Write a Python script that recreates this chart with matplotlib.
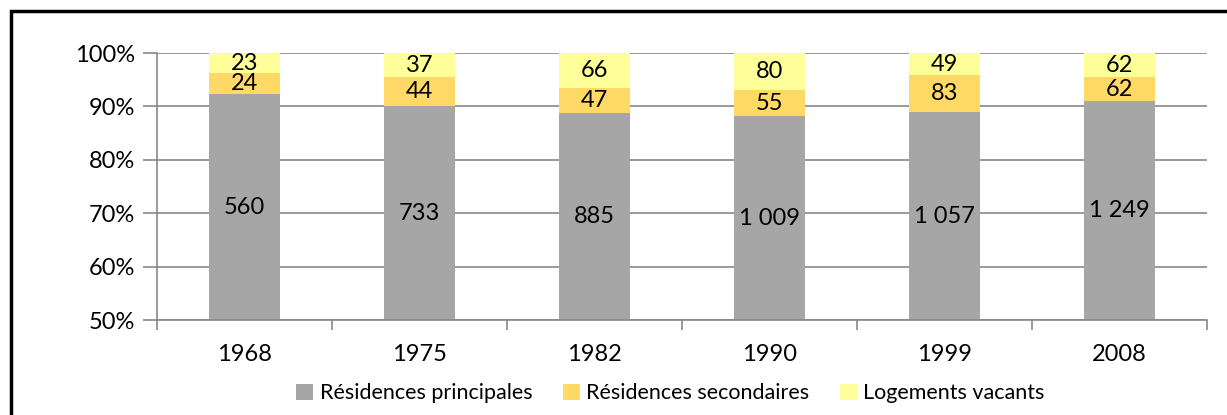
import numpy as np
import matplotlib.pyplot as plt
from matplotlib.patches import Rectangle

plt.rcParams['font.family'] = ['Lato', 'DejaVu Sans']

annees = ['1968', '1975', '1982', '1990', '1999', '2008']
principales = [560, 733, 885, 1009, 1057, 1249]
secondaires = [24, 44, 47, 55, 83, 62]
vacants = [23, 37, 66, 80, 49, 62]

series = [
    ('Résidences principales', principales, '#a6a6a6'),
    ('Résidences secondaires', secondaires, '#ffd966'),
    ('Logements vacants', vacants, '#ffff99'),
]

def fmt(v):
    return f'{v:,}'.replace(',', ' ')

fig = plt.figure(figsize=(12.27, 4.15), dpi=100)
ax = fig.add_axes([157 / 1227, 1 - 320 / 415, 1050 / 1227, 267 / 415])

x = np.arange(len(annees))
total = np.array(principales) + np.array(secondaires) + np.array(vacants)
bas = np.zeros(len(annees))
ymin = 50
for nom, vals, couleur in series:
    pct = np.array(vals) / total * 100
    ax.bar(x, pct, bottom=bas, width=0.41, color=couleur, label=nom, zorder=2)
    for i, v in enumerate(vals):
        lo = max(bas[i], ymin)
        hi = bas[i] + pct[i]
        ax.text(x[i], (lo + hi) / 2, fmt(v), ha='center', va='center',
                fontsize=17, color='black', zorder=3)
    bas = bas + pct

ax.set_xlim(-0.5, len(annees) - 0.5)
ax.set_ylim(50, 100)
ax.set_yticks(range(50, 101, 10))
ax.set_yticklabels([f'{v}%' for v in range(50, 101, 10)], fontsize=17)
ax.set_xticks(x)
ax.set_xticklabels(annees, fontsize=17)
ax.set_xticks(np.arange(-0.5, len(annees)), minor=True)
ax.tick_params(axis='x', which='major', length=0, pad=17)
ax.tick_params(axis='x', which='minor', length=7, color='#888888', width=1.2)
ax.tick_params(axis='y', length=10, color='#888888', width=1.2, pad=6)
ax.yaxis.grid(True, color='#888888', linewidth=1.2, zorder=0)
ax.set_axisbelow(True)
for s in ['top', 'right']:
    ax.spines[s].set_visible(False)
for s in ['left', 'bottom']:
    ax.spines[s].set_color('#888888')
    ax.spines[s].set_linewidth(1.2)

ax.legend(loc='upper center', bbox_to_anchor=(0.489, -0.165), ncol=3, frameon=False,
          fontsize=15.5, handlelength=0.8, handleheight=0.8, handletextpad=0.3,
          columnspacing=1.4)

# cadre noir autour du graphique
fig.patches.append(Rectangle((10.5 / 1227, -0.1), 1.2, 1 - 11.5 / 415 + 0.1,
                             transform=fig.transFigure, fill=False,
                             edgecolor='black', linewidth=2.5))

fig.savefig('out.png', dpi=100)
